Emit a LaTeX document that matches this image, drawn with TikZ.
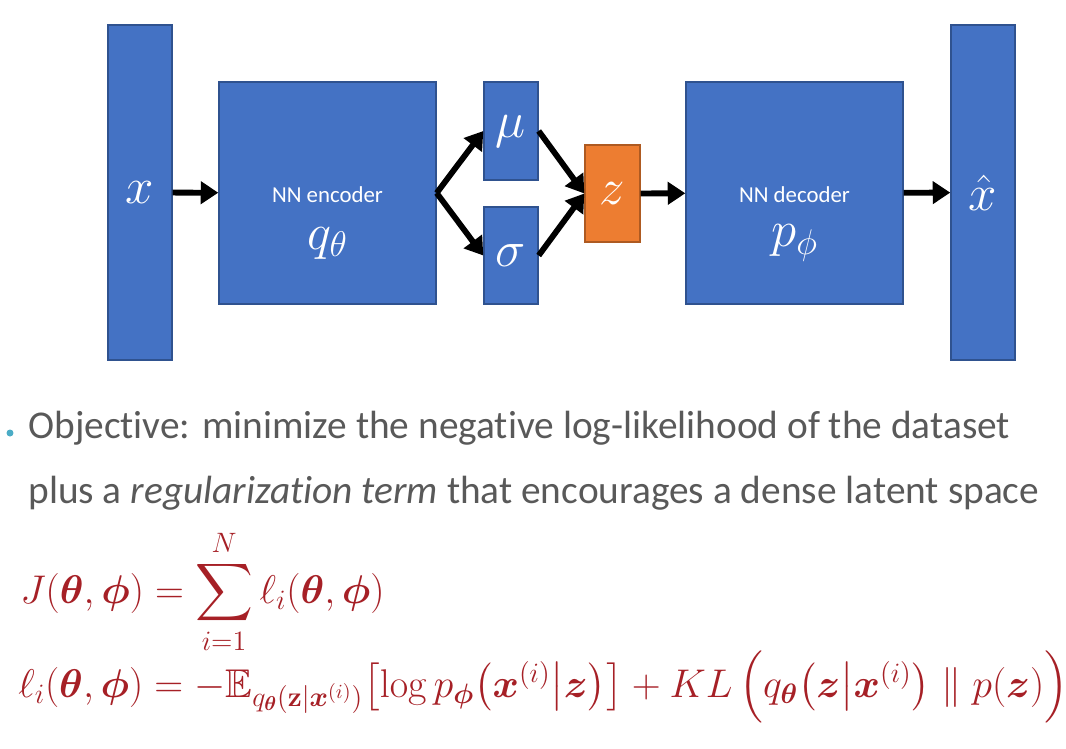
\documentclass[tikz,border=0pt]{standalone}
\usepackage{fix-cm}
\usepackage[no-math]{fontspec}
\newfontfamily\calfont[Ligatures=NoCommon]{Carlito}
\usepackage{amsmath,amssymb}
\usetikzlibrary{arrows.meta, positioning}

\definecolor{blkfill}{RGB}{68,114,196}
\definecolor{blkedge}{RGB}{47,82,143}
\definecolor{latfill}{RGB}{237,125,49}
\definecolor{latedge}{RGB}{174,90,33}
\definecolor{bodygray}{RGB}{89,89,89}
\definecolor{bulletcyan}{RGB}{75,172,198}
\definecolor{eqred}{RGB}{166,32,38}

\tikzset{
    blk/.style={draw=blkedge, fill=blkfill, line width=0.8pt, inner sep=0pt,
        text=white, font=\fontsize{29}{33}\selectfont},
    lat/.style={blk, draw=latedge, fill=latfill},
    nnlbl/.style={text=white, font=\calfont\fontsize{13}{15}\selectfont},
    symlbl/.style={text=white, font=\fontsize{29}{33}\selectfont},
    flow/.style={line width=3.3pt, -{Triangle[length=10pt, width=12.5pt]}},
    body/.style={anchor=base west, inner sep=0pt, text=bodygray,
        font=\calfont\fontsize{22.4}{26}\selectfont},
    eqn/.style={anchor=base west, inner sep=0pt, text=eqred,
        font=\fontsize{22.8}{27}\selectfont}
}

\begin{document}
\begin{tikzpicture}[x=0.02cm, y=-0.02cm]

\useasboundingbox (0,0) rectangle (1066,748);

% Input and output columns
\node[blk, minimum width=1.28cm, minimum height=6.7cm] (xin) at (140,192.5) {$x$};
\node[blk, minimum width=1.28cm, minimum height=6.7cm] (xout) at (983,192.5) {$\hat{x}$};

% Encoder and decoder
\node[blk, minimum width=4.34cm, minimum height=4.44cm] (enc) at (327.5,193) {};
\node[blk, minimum width=4.34cm, minimum height=4.44cm] (dec) at (794.5,193) {};

% Labels for encoder and decoder
\node[nnlbl] (enctxt) at (327.5,195) {NN encoder};
\node[symlbl] (encsym) at (327.5,243) {$q_\theta$};
\node[nnlbl] (dectxt) at (794.5,195) {NN decoder};
\node[symlbl] (decsym) at (794.5,243) {$p_\phi$};

% Mean, spread and latent code
\node[blk, minimum width=1.08cm, minimum height=1.96cm] (mu) at (511,131) {$\mu$};
\node[blk, minimum width=1.08cm, minimum height=1.94cm] (sigma) at (511,255.5) {$\sigma$};
\node[lat, minimum width=1.1cm, minimum height=1.94cm] (z) at (612.5,193.5) {$z$};

% Arrows along the chain
\foreach \a/\b in {xin/enc, z/dec, dec/xout}
{
    \draw[flow] (\a) -- (\b);
}
\foreach \b in {mu, sigma}
{
    \draw[flow] (enc.east) -- (\b.west);
    \draw[flow] (\b.east) -- (z.west);
}

% Objective text
\fill[bulletcyan] (10,433) circle[radius=0.07cm];
\node[body] (obj1) at (28,438) {Objective: minimize the negative log-likelihood of the dataset};
\node[body] (obj2) at (28,503) {plus a \textit{regularization term} that encourages a dense latent space};

% Loss equations
\node[eqn] (eqJ) at (20,603) {$\displaystyle J(\boldsymbol{\theta},\boldsymbol{\phi}) = \sum_{i=1}^{N} \ell_i(\boldsymbol{\theta},\boldsymbol{\phi})$};
\node[eqn] (eqL) at (18,697) {$\ell_i(\boldsymbol{\theta},\boldsymbol{\phi}) = -\mathbb{E}_{q_{\boldsymbol{\theta}}(\mathbf{z}|\boldsymbol{x}^{(i)})}\bigl[\log p_{\boldsymbol{\phi}}\bigl(\boldsymbol{x}^{(i)}\big|\boldsymbol{z}\bigr)\bigr] + KL\,\Bigl(q_{\boldsymbol{\theta}}\bigl(\boldsymbol{z}\big|\boldsymbol{x}^{(i)}\bigr) \parallel p(\boldsymbol{z})\Bigr)$};

\end{tikzpicture}
\end{document}
